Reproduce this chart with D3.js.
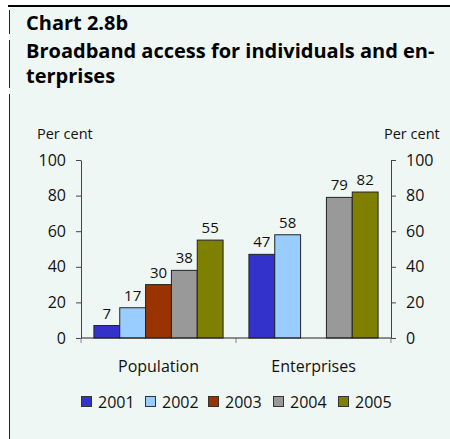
<!DOCTYPE html>
<html>
<head>
<meta charset="utf-8">
<script src="https://cdn.jsdelivr.net/npm/d3@7"></script>
<style>
  html, body { margin: 0; padding: 0; background: #ffffff; }
  svg { display: block; font-family: "Open Sans", "DejaVu Sans", sans-serif; }
</style>
</head>
<body>
<svg id="chart" width="450" height="439"></svg>
<script>
// Chart data
const titleLines = ["Chart 2.8b", "Broadband access for individuals and en-", "terprises"];
const categories = ["Population", "Enterprises"];
const years = ["2001", "2002", "2003", "2004", "2005"];
const population = [7, 17, 30, 38, 55];
const enterprises = [47, 58, null, 79, 82];
const yTicks = [0, 20, 40, 60, 80, 100];
const unitLabel = "Per cent";
const colors = ["#3333cc", "#99ccff", "#993300", "#999999", "#808000"];

const seriesByCategory = { Population: population, Enterprises: enterprises };

const svg = d3.select("#chart");

// Panel background and frame rules
svg.append("rect").attr("x", 10).attr("y", 7).attr("width", 440).attr("height", 432).attr("fill", "#eff7f4");
svg.append("line").attr("x1", 8).attr("x2", 450).attr("y1", 6).attr("y2", 6)
  .attr("stroke", "#000").attr("stroke-width", 2);
[[10, 34], [40, 88], [94, 439]].forEach(([a, b]) => {
  svg.append("line").attr("x1", 9.5).attr("x2", 9.5).attr("y1", a).attr("y2", b)
    .attr("stroke", "#222").attr("stroke-width", 1);
});

// Title
const titleY = [30, 58, 83];
titleLines.forEach((t, i) => {
  svg.append("text").attr("x", 26).attr("y", titleY[i])
    .attr("font-size", 20).attr("font-weight", "bold").attr("fill", "#000")
    .text(t);
});

// Scales
const x0 = d3.scaleBand().domain(categories).range([81, 391]).paddingInner(0).paddingOuter(0);
const x1 = d3.scaleBand().domain(years).range([0, x0.bandwidth()]).paddingInner(0).paddingOuter(0.5);
const y = d3.scaleLinear().domain([0, 100]).range([338, 160]);

// Y axes (both sides)
const leftAxis = d3.axisLeft(y).tickValues(yTicks).tickSize(5).tickSizeOuter(0).tickPadding(10);
const rightAxis = d3.axisRight(y).tickValues(yTicks).tickSize(5).tickSizeOuter(0).tickPadding(10);

function styleAxis(g) {
  g.select(".domain").attr("stroke", "#444");
  g.selectAll(".tick line").attr("stroke", "#444");
  g.selectAll(".tick text").attr("font-size", 16).attr("fill", "#111")
    .attr("font-family", "'Open Sans', sans-serif");
}
svg.append("g").attr("transform", "translate(81,0)").call(leftAxis).call(styleAxis);
svg.append("g").attr("transform", "translate(391,0)").call(rightAxis).call(styleAxis);

// Unit labels
svg.append("text").attr("x", 37).attr("y", 139).attr("font-size", 14.5).attr("fill", "#111").text(unitLabel);
svg.append("text").attr("x", 384).attr("y", 139).attr("font-size", 14.5).attr("fill", "#111").text(unitLabel);

// Category axis: baseline and boundary ticks
const edges = [x0.range()[0]].concat(categories.map(c => x0(c) + x0.bandwidth()));
svg.selectAll("line.cat-tick").data(edges).join("line")
  .attr("class", "cat-tick")
  .attr("x1", d => d).attr("x2", d => d)
  .attr("y1", y(0)).attr("y2", y(0) + 5)
  .attr("stroke", "#888");

svg.selectAll("text.cat-label").data(categories).join("text")
  .attr("class", "cat-label")
  .attr("x", d => x0(d) + x0.bandwidth() / 2)
  .attr("y", 372)
  .attr("text-anchor", "middle")
  .attr("font-size", 16).attr("fill", "#111")
  .text(d => d);

// Bars
const barData = [];
categories.forEach(c => {
  seriesByCategory[c].forEach((v, i) => {
    if (v !== null) barData.push({ cat: c, year: years[i], value: v, color: colors[i] });
  });
});

svg.selectAll("rect.bar").data(barData).join("rect")
  .attr("class", "bar")
  .attr("x", d => x0(d.cat) + x1(d.year))
  .attr("y", d => y(d.value))
  .attr("width", x1.bandwidth())
  .attr("height", d => y(0) - y(d.value))
  .attr("fill", d => d.color)
  .attr("stroke", "#222").attr("stroke-width", 1);

svg.selectAll("text.val").data(barData).join("text")
  .attr("class", "val")
  .attr("x", d => x0(d.cat) + x1(d.year) + x1.bandwidth() / 2)
  .attr("y", d => y(d.value) - 7)
  .attr("text-anchor", "middle")
  .attr("font-size", 15).attr("fill", "#111")
  .text(d => d.value);

// Baseline drawn on top of bars
svg.append("line").attr("x1", 81).attr("x2", 391).attr("y1", y(0)).attr("y2", y(0))
  .attr("stroke", "#222").attr("stroke-width", 1);

// Legend
const legendX = [81, 145, 208, 273, 338];
const legend = svg.selectAll("g.legend").data(years).join("g")
  .attr("class", "legend")
  .attr("transform", (d, i) => `translate(${legendX[i]},396)`);
legend.append("rect").attr("x", 0.5).attr("y", 0.5).attr("width", 10).attr("height", 10)
  .attr("fill", (d, i) => colors[i]).attr("stroke", "#333");
legend.append("text").attr("x", 17).attr("y", 12).attr("font-size", 16).attr("fill", "#111")
  .text(d => d);
</script>
</body>
</html>
